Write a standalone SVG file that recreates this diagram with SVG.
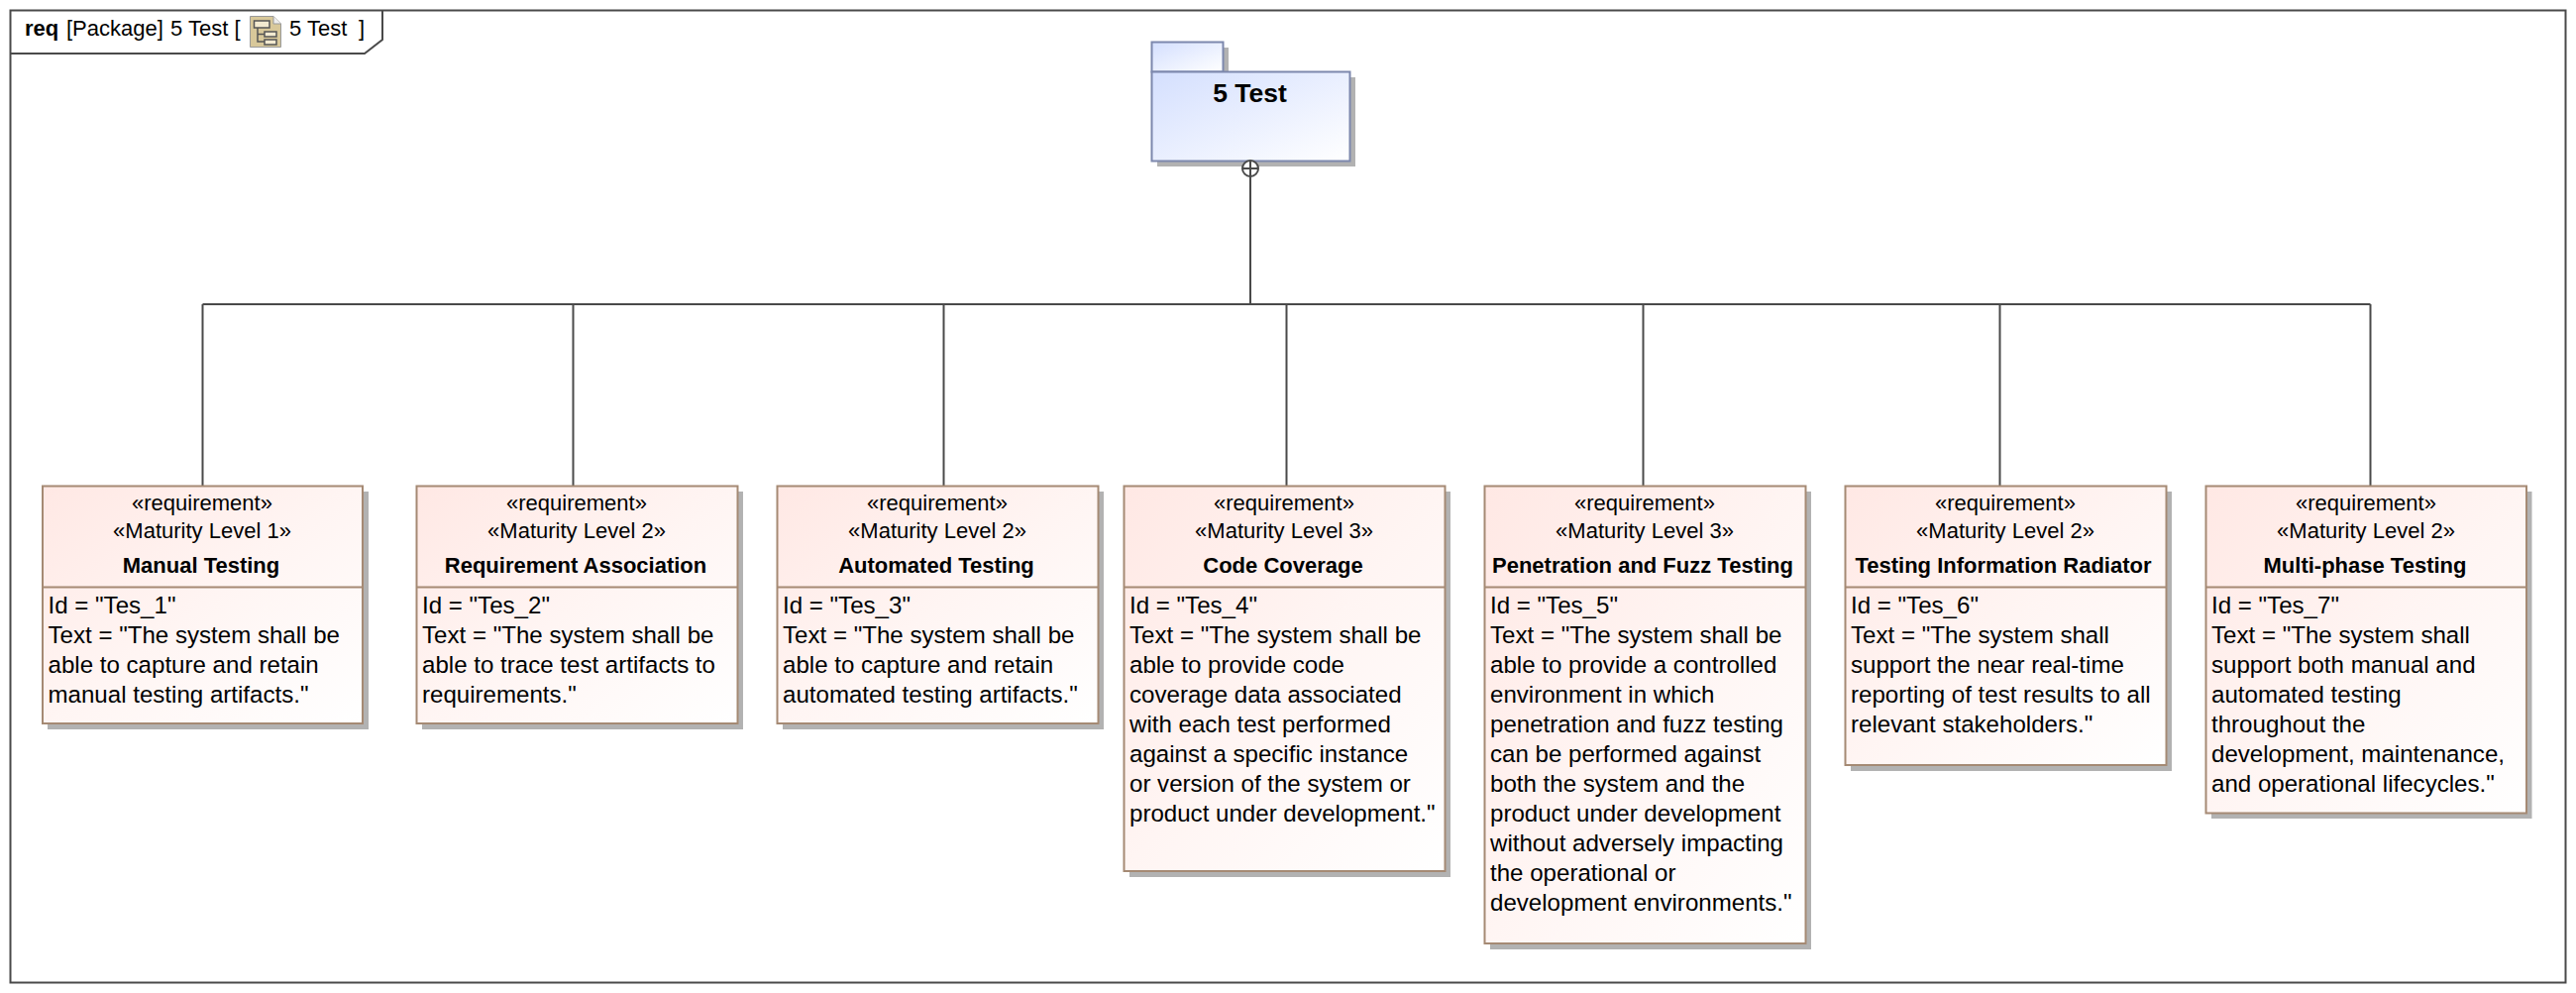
<svg xmlns="http://www.w3.org/2000/svg" width="2600" height="1002" viewBox="0 0 2600 1002">
<style>
text{font-family:"Liberation Sans",Arial,sans-serif;fill:#000}
.f{font-size:22px}
.c{font-size:22px;text-anchor:middle}
.t{font-size:22px;font-weight:bold;text-anchor:middle}
.b{font-size:24.100px}
.box{fill:url(#rg);stroke:#a58a74;stroke-width:2}
.dv{fill:none;stroke:#a58a74;stroke-width:2}
.sh{fill:#b2b2b2}
.ln{fill:none;stroke:#4a4a4a;stroke-width:2}
.pk{fill:url(#pg);stroke:#7d88ad;stroke-width:2}
</style>
<defs>
<linearGradient id="rg" x1="0" y1="0" x2="1" y2="1"><stop offset="0" stop-color="#ffe8e4"/><stop offset=".5" stop-color="#fff5f3"/><stop offset="1" stop-color="#fff"/></linearGradient>
<linearGradient id="pg" x1="0" y1="0" x2="1" y2="1"><stop offset="0" stop-color="#d4dffe"/><stop offset="1" stop-color="#fff"/></linearGradient>
</defs>
<rect width="2600" height="1002" fill="#fff"/>
<g id="frame">
<rect x="10.500" y="10.500" width="2579" height="981" fill="#fff" stroke="#4a4a4a" stroke-width="2"/>
<path class="ln" d="M386 10.500V40L368 54H10.500"/>
<text class="f" x="25" y="36" style="font-weight:bold">req</text>
<text class="f" x="67" y="36">[Package]</text>
<text class="f" x="172" y="36">5 Test [</text>
<g id="frame-icon"><path d="M252.500 16.500H276L283.500 24V47.500H252.500Z" fill="#d8c89a" stroke="#999"/><path d="M276 16.500V24H283.500" fill="#eee" stroke="#999"/><path d="M256.500 21H272V28H256.500Z" fill="#f3ead0" stroke="#555" stroke-width="1.500"/><path d="M260 28V42H267M260 34.500H267" fill="none" stroke="#555" stroke-width="1.500"/><path d="M267 32H279V37H267ZM267 40H279V45H267Z" fill="#f3ead0" stroke="#555" stroke-width="1.500"/></g>
<text class="f" x="292" y="36">5 Test</text>
<text class="f" x="362" y="36">]</text>
</g>
<g id="pkg">
<path class="sh" d="M1168 48H1240V78H1368V168H1168Z"/>
<rect class="pk" x="1162.500" y="42.500" width="72" height="30"/>
<rect class="pk" x="1162.500" y="72.500" width="200" height="90"/>
<text x="1261.500" y="103" text-anchor="middle" style="font-size:26.500px;font-weight:bold">5 Test</text>
</g>
<g id="connectors">
<path class="ln" d="M1262 178V307M204.500 307H2392.500M204.500 307V491M578.500 307V491M952.500 307V491M1298.500 307V491M1658.500 307V491M2018.500 307V491M2392.500 307V491"/>
<circle class="ln" cx="1262" cy="170" r="8" style="fill:#fff"/>
<path class="ln" d="M1254 170H1270M1262 162V178"/>
</g>
<g id="req1">
<rect class="sh" x="48" y="496" width="324" height="240"/><rect class="box" x="43" y="490.500" width="323" height="239.500"/>
<path class="dv" d="M43 592.500H366"/>
<text class="c" x="204" y="515">«requirement»</text><text class="c" x="204" y="543">«Maturity Level 1»</text><text class="t" x="203" y="577.500">Manual Testing</text>
<text class="b"><tspan x="48.500" y="619">Id = "Tes_1"</tspan><tspan x="48.500" y="649">Text = "The system shall be</tspan><tspan x="48.500" y="679">able to capture and retain</tspan><tspan x="48.500" y="709">manual testing artifacts."</tspan></text>
</g>
<g id="req2">
<rect class="sh" x="426" y="496" width="324" height="240"/><rect class="box" x="420.500" y="490.500" width="324" height="239.500"/>
<path class="dv" d="M420.500 592.500H744.500"/>
<text class="c" x="582" y="515">«requirement»</text><text class="c" x="582" y="543">«Maturity Level 2»</text><text class="t" x="581" y="577.500">Requirement Association</text>
<text class="b"><tspan x="426" y="619">Id = "Tes_2"</tspan><tspan x="426" y="649">Text = "The system shall be</tspan><tspan x="426" y="679">able to trace test artifacts to</tspan><tspan x="426" y="709">requirements."</tspan></text>
</g>
<g id="req3">
<rect class="sh" x="790" y="496" width="324" height="240"/><rect class="box" x="784.500" y="490.500" width="324" height="239.500"/>
<path class="dv" d="M784.500 592.500H1108.500"/>
<text class="c" x="946" y="515">«requirement»</text><text class="c" x="946" y="543">«Maturity Level 2»</text><text class="t" x="945" y="577.500">Automated Testing</text>
<text class="b"><tspan x="790" y="619">Id = "Tes_3"</tspan><tspan x="790" y="649">Text = "The system shall be</tspan><tspan x="790" y="679">able to capture and retain</tspan><tspan x="790" y="709">automated testing artifacts."</tspan></text>
</g>
<g id="req4">
<rect class="sh" x="1140" y="496" width="324" height="389"/><rect class="box" x="1134.500" y="490.500" width="324" height="388.500"/>
<path class="dv" d="M1134.500 592.500H1458.500"/>
<text class="c" x="1296" y="515">«requirement»</text><text class="c" x="1296" y="543">«Maturity Level 3»</text><text class="t" x="1295" y="577.500">Code Coverage</text>
<text class="b"><tspan x="1140" y="619">Id = "Tes_4"</tspan><tspan x="1140" y="649">Text = "The system shall be</tspan><tspan x="1140" y="679">able to provide code</tspan><tspan x="1140" y="709">coverage data associated</tspan><tspan x="1140" y="739">with each test performed</tspan><tspan x="1140" y="769">against a specific instance</tspan><tspan x="1140" y="799">or version of the system or</tspan><tspan x="1140" y="829">product under development."</tspan></text>
</g>
<g id="req5">
<rect class="sh" x="1504" y="496" width="324" height="462"/><rect class="box" x="1498.500" y="490.500" width="324" height="461.500"/>
<path class="dv" d="M1498.500 592.500H1822.500"/>
<text class="c" x="1660" y="515">«requirement»</text><text class="c" x="1660" y="543">«Maturity Level 3»</text><text class="t" x="1658" y="577.500">Penetration and Fuzz Testing</text>
<text class="b"><tspan x="1504" y="619">Id = "Tes_5"</tspan><tspan x="1504" y="649">Text = "The system shall be</tspan><tspan x="1504" y="679">able to provide a controlled</tspan><tspan x="1504" y="709">environment in which</tspan><tspan x="1504" y="739">penetration and fuzz testing</tspan><tspan x="1504" y="769">can be performed against</tspan><tspan x="1504" y="799">both the system and the</tspan><tspan x="1504" y="829">product under development</tspan><tspan x="1504" y="859">without adversely impacting</tspan><tspan x="1504" y="889">the operational or</tspan><tspan x="1504" y="919">development environments."</tspan></text>
</g>
<g id="req6">
<rect class="sh" x="1868" y="496" width="324" height="282"/><rect class="box" x="1862.500" y="490.500" width="324" height="281.500"/>
<path class="dv" d="M1862.500 592.500H2186.500"/>
<text class="c" x="2024" y="515">«requirement»</text><text class="c" x="2024" y="543">«Maturity Level 2»</text><text class="t" x="2022" y="577.500">Testing Information Radiator</text>
<text class="b"><tspan x="1868" y="619">Id = "Tes_6"</tspan><tspan x="1868" y="649">Text = "The system shall</tspan><tspan x="1868" y="679">support the near real-time</tspan><tspan x="1868" y="709">reporting of test results to all</tspan><tspan x="1868" y="739">relevant stakeholders."</tspan></text>
</g>
<g id="req7">
<rect class="sh" x="2232" y="496" width="323.500" height="330"/><rect class="box" x="2226.500" y="490.500" width="323.500" height="330"/>
<path class="dv" d="M2226.500 592.500H2550"/>
<text class="c" x="2388" y="515">«requirement»</text><text class="c" x="2388" y="543">«Maturity Level 2»</text><text class="t" x="2387" y="577.500">Multi-phase Testing</text>
<text class="b"><tspan x="2232" y="619">Id = "Tes_7"</tspan><tspan x="2232" y="649">Text = "The system shall</tspan><tspan x="2232" y="679">support both manual and</tspan><tspan x="2232" y="709">automated testing</tspan><tspan x="2232" y="739">throughout the</tspan><tspan x="2232" y="769">development, maintenance,</tspan><tspan x="2232" y="799">and operational lifecycles."</tspan></text>
</g>
</svg>
